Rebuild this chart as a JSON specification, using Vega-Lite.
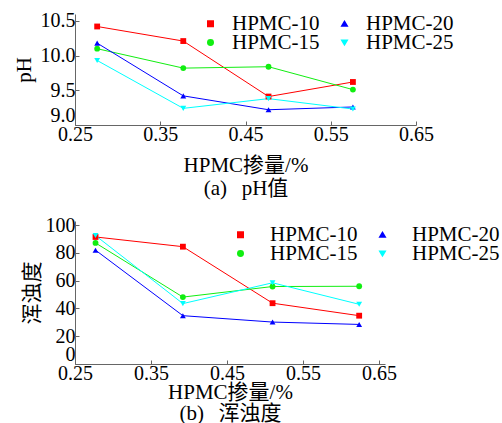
{
  "$schema": "https://vega.github.io/schema/vega-lite/v6.json",
  "padding": {"left": 13, "top": 10, "right": 0, "bottom": 0},
  "spacing": 17,
  "config": {
    "font": "Liberation Serif, Noto Sans CJK SC",
    "view": {"stroke": null},
    "axis": {
      "grid": false,
      "domainColor": "#666666",
      "tickColor": "#666666",
      "tickSize": -4,
      "labelColor": "#000000",
      "labelFont": "Liberation Serif",
      "labelFontSize": 20,
      "labelOverlap": false,
      "titleFont": "Liberation Serif, Noto Sans CJK SC",
      "titleFontSize": 21,
      "titleFontWeight": "normal",
      "titleColor": "#000000"
    },
    "legend": {
      "labelFont": "Liberation Serif",
      "labelFontSize": 21,
      "labelColor": "#000000",
      "title": null,
      "padding": 0,
      "symbolSize": 30,
      "clipHeight": 17
    }
  },
  "resolve": {
    "scale": {"x": "independent", "y": "independent", "color": "independent", "shape": "independent"},
    "legend": {"color": "independent", "shape": "independent"},
    "axis": {"x": "independent", "y": "independent"}
  },
  "vconcat": [
    {
      "width": 341,
      "height": 111,
      "data": {"values": [
        {"series": "HPMC-10", "marker": "HPMC-10", "x": 0.276, "v": 10.42},
        {"series": "HPMC-10", "marker": "HPMC-10", "x": 0.377, "v": 10.21},
        {"series": "HPMC-10", "marker": "HPMC-10", "x": 0.477, "v": 9.41},
        {"series": "HPMC-10", "marker": "HPMC-10", "x": 0.576, "v": 9.62},
        {"series": "HPMC-15", "marker": "HPMC-15", "x": 0.276, "v": 10.10},
        {"series": "HPMC-15", "marker": "HPMC-15", "x": 0.377, "v": 9.82},
        {"series": "HPMC-15", "marker": "HPMC-15", "x": 0.477, "v": 9.84},
        {"series": "HPMC-15", "marker": "HPMC-15", "x": 0.576, "v": 9.51},
        {"series": "HPMC-20", "marker": "HPMC-20", "x": 0.276, "v": 10.18},
        {"series": "HPMC-20", "marker": "HPMC-20", "x": 0.377, "v": 9.42},
        {"series": "HPMC-20", "marker": "HPMC-20", "x": 0.477, "v": 9.22},
        {"series": "HPMC-20", "marker": "HPMC-20", "x": 0.576, "v": 9.26},
        {"series": "HPMC-25", "marker": "HPMC-25", "x": 0.276, "v": 9.93},
        {"series": "HPMC-25", "marker": "HPMC-25", "x": 0.377, "v": 9.24},
        {"series": "HPMC-25", "marker": "HPMC-25", "x": 0.477, "v": 9.38},
        {"series": "HPMC-25", "marker": "HPMC-25", "x": 0.576, "v": 9.23}
      ]},
      "encoding": {
        "x": {"field": "x", "type": "quantitative",
          "scale": {"domain": [0.25, 0.65], "nice": false, "zero": false},
          "axis": {"values": [0.25, 0.35, 0.45, 0.55, 0.65], "format": ".2f", "labelFlush": false, "labelPadding": 3,
            "title": ["HPMC掺量/%", "(a)\u00a0\u00a0\u2009pH值"], "titleLineHeight": 23, "titlePadding": 10}},
        "y": {"field": "v", "type": "quantitative",
          "scale": {"domain": [9.0, 10.6], "nice": false, "zero": false},
          "axis": {"values": [9.0, 9.5, 10.0, 10.5], "format": ".1f", "labelFlush": true, "labelPadding": 4,
            "title": "pH", "titlePadding": 6}},
        "color": {"field": "series", "type": "nominal",
          "scale": {"domain": ["HPMC-10", "HPMC-15", "HPMC-20", "HPMC-25"], "range": ["#ff0000", "#11ee11", "#0000ff", "#00ffff"]},
          "legend": {
            "orient": "none", "legendX": 111, "legendY": 1, "columns": 2, "direction": "vertical",
            "symbolOffset": 14, "labelOffset": 11, "columnPadding": -50, "rowPadding": -4}}
      },
      "layer": [
        {"mark": {"type": "line", "strokeWidth": 1}},
        {"mark": {"type": "point", "filled": true, "size": 34, "opacity": 1},
          "encoding": {"shape": {"field": "marker", "type": "nominal",
            "scale": {"domain": ["HPMC-10", "HPMC-15", "HPMC-20", "HPMC-25"], "range": ["square", "circle", "triangle-up", "triangle-down"]},
            "legend": null}}}
      ]
    },
    {
      "width": 310,
      "height": 143,
      "data": {"values": [
        {"series": "HPMC-10", "marker": "HPMC-10", "x": 0.277, "v": 91.5},
        {"series": "HPMC-10", "marker": "HPMC-10", "x": 0.392, "v": 84.5},
        {"series": "HPMC-10", "marker": "HPMC-10", "x": 0.510, "v": 43.8},
        {"series": "HPMC-10", "marker": "HPMC-10", "x": 0.624, "v": 34.8},
        {"series": "HPMC-15", "marker": "HPMC-15", "x": 0.277, "v": 87.2},
        {"series": "HPMC-15", "marker": "HPMC-15", "x": 0.392, "v": 48.2},
        {"series": "HPMC-15", "marker": "HPMC-15", "x": 0.510, "v": 55.8},
        {"series": "HPMC-15", "marker": "HPMC-15", "x": 0.624, "v": 56.0},
        {"series": "HPMC-20", "marker": "HPMC-20", "x": 0.277, "v": 82.0},
        {"series": "HPMC-20", "marker": "HPMC-20", "x": 0.392, "v": 34.8},
        {"series": "HPMC-20", "marker": "HPMC-20", "x": 0.510, "v": 30.2},
        {"series": "HPMC-20", "marker": "HPMC-20", "x": 0.624, "v": 28.5},
        {"series": "HPMC-25", "marker": "HPMC-25", "x": 0.277, "v": 92.5},
        {"series": "HPMC-25", "marker": "HPMC-25", "x": 0.392, "v": 43.5},
        {"series": "HPMC-25", "marker": "HPMC-25", "x": 0.510, "v": 58.5},
        {"series": "HPMC-25", "marker": "HPMC-25", "x": 0.624, "v": 43.0}
      ]},
      "encoding": {
        "x": {"field": "x", "type": "quantitative",
          "scale": {"domain": [0.25, 0.658], "nice": false, "zero": false},
          "axis": {"values": [0.25, 0.35, 0.45, 0.55, 0.65], "format": ".2f", "labelFlush": false, "labelPadding": 3,
            "title": ["HPMC掺量/%", "(b)\u00a0\u00a0\u2009浑浊度"], "titleLineHeight": 21, "titlePadding": -2}},
        "y": {"field": "v", "type": "quantitative",
          "scale": {"domain": [0, 103], "nice": false, "zero": false},
          "axis": {"values": [0, 20, 40, 60, 80, 100], "labelFlush": true, "labelPadding": 4,
            "title": "浑浊度", "titlePadding": 3}},
        "color": {"field": "series", "type": "nominal",
          "scale": {"domain": ["HPMC-10", "HPMC-15", "HPMC-20", "HPMC-25"], "range": ["#ff0000", "#11ee11", "#0000ff", "#00ffff"]},
          "legend": {
            "orient": "none", "legendX": 141, "legendY": 5, "columns": 2, "direction": "vertical",
            "symbolOffset": 14, "labelOffset": 19, "columnPadding": -18, "rowPadding": -4}}
      },
      "layer": [
        {"mark": {"type": "line", "strokeWidth": 1}},
        {"mark": {"type": "point", "filled": true, "size": 34, "opacity": 1},
          "encoding": {"shape": {"field": "marker", "type": "nominal",
            "scale": {"domain": ["HPMC-10", "HPMC-15", "HPMC-20", "HPMC-25"], "range": ["square", "circle", "triangle-up", "triangle-down"]},
            "legend": null}}}
      ]
    }
  ]
}
